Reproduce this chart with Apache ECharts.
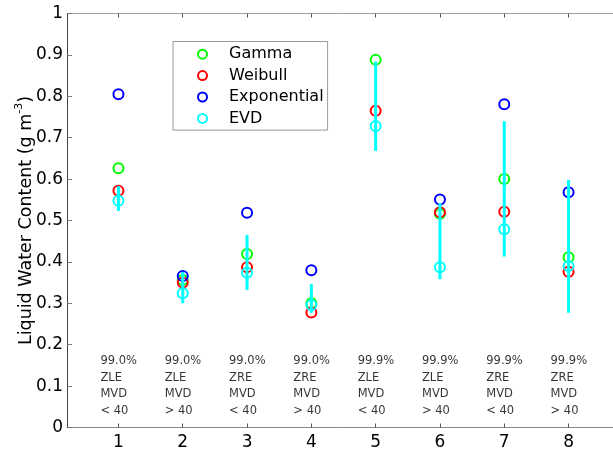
<!DOCTYPE html>
<html>
<head>
<meta charset="utf-8">
<script src="https://cdn.jsdelivr.net/npm/echarts@6/dist/echarts.min.js"></script>
<style>
  html, body { margin: 0; padding: 0; background: #fff; }
  #chart { width: 613px; height: 455px; }
</style>
</head>
<body>
<div id="chart"></div>
<script>
// Case numbers along the x axis
const cases = [1, 2, 3, 4, 5, 6, 7, 8];

// Liquid water content (g m^-3) for each fitted distribution
const gamma       = [0.626, 0.356, 0.419, 0.300, 0.888, 0.516, 0.600, 0.411];
const weibull     = [0.572, 0.350, 0.387, 0.278, 0.765, 0.520, 0.521, 0.376];
const exponential = [0.805, 0.366, 0.519, 0.380, null,  0.551, 0.781, 0.568];
const evd         = [0.548, 0.324, 0.374, 0.296, 0.728, 0.387, 0.479, 0.390];

// EVD uncertainty range
const evdLow  = [0.523, 0.300, 0.332, 0.277, 0.668, 0.358, 0.413, 0.277];
const evdHigh = [0.583, 0.376, 0.465, 0.347, 0.884, 0.542, 0.740, 0.598];

// Case descriptions printed under each column
const confidence = ['99.0%', '99.0%', '99.0%', '99.0%', '99.9%', '99.9%', '99.9%', '99.9%'];
const edge       = ['ZLE', 'ZLE', 'ZRE', 'ZRE', 'ZLE', 'ZLE', 'ZRE', 'ZRE'];
const mvdLine    = ['MVD', 'MVD', 'MVD', 'MVD', 'MVD', 'MVD', 'MVD', 'MVD'];
const mvdRange   = ['< 40', '> 40', '< 40', '> 40', '< 40', '> 40', '< 40', '> 40'];

const yTicks = [0, 0.1, 0.2, 0.3, 0.4, 0.5, 0.6, 0.7, 0.8, 0.9, 1];

const FONT = 'DejaVu Sans';
const noteLevel = 0.1;

function pairs(values) {
  return cases.map((c, i) => [c, values[i]]);
}

function scatter(name, values, color) {
  return {
    name: name,
    type: 'scatter',
    data: pairs(values),
    symbol: 'circle',
    symbolSize: 10,
    itemStyle: { color: 'rgba(255,255,255,0)', borderColor: color, borderWidth: 2, opacity: 1 },
    emphasis: { disabled: true },
    z: 3
  };
}

const chart = echarts.init(document.getElementById('chart'), null, { renderer: 'canvas' });

const option = {
  animation: false,
  backgroundColor: '#fff',
  textStyle: { fontFamily: FONT },
  grid: { left: 67, top: 13.5, width: 553, height: 414, containLabel: false, outerBoundsMode: 'none' },
  legend: {
    data: ['Gamma', 'Weibull', 'Exponential', 'EVD'],
    orient: 'vertical',
    left: 173,
    top: 41.5,
    padding: [2, 4, 1, 24],
    itemWidth: 43,
    itemHeight: 9,
    itemGap: 0,
    borderColor: '#999',
    borderWidth: 1,
    backgroundColor: '#fff',
    selectedMode: false,
    textStyle: { fontFamily: FONT, fontSize: 16, color: '#000', lineHeight: 21.4 }
  },
  xAxis: [
    {
      type: 'value',
      min: 0.2,
      max: 8.8,
      position: 'bottom',
      axisLine: { show: true, onZero: false, lineStyle: { color: '#8a8a8a', width: 1 } },
      axisTick: { show: true, inside: true, length: 4, customValues: cases, lineStyle: { color: '#555' } },
      axisLabel: { show: true, customValues: cases, fontFamily: FONT, fontSize: 17, color: '#000', margin: 7 },
      splitLine: { show: false }
    },
    {
      type: 'value',
      min: 0.2,
      max: 8.8,
      position: 'top',
      axisLine: { show: true, onZero: false, lineStyle: { color: '#a0a0a0', width: 1 } },
      axisTick: { show: true, inside: true, length: 4, customValues: cases, lineStyle: { color: '#555' } },
      axisLabel: { show: false },
      splitLine: { show: false }
    }
  ],
  yAxis: {
    type: 'value',
    min: 0,
    max: 1,
    interval: 0.1,
    axisLine: { show: true, onZero: false, lineStyle: { color: '#444', width: 1 } },
    axisTick: { show: true, inside: true, length: 5, lineStyle: { color: '#777' } },
    axisLabel: {
      fontFamily: FONT, fontSize: 17, color: '#000', margin: 4,
      customValues: yTicks,
      formatter: v => String(Math.round(v * 10) / 10)
    },
    splitLine: { show: false },
    name: '{t|Liquid Water Content (g m}{s|-3}{t|)}',
    nameLocation: 'middle',
    nameGap: 29,
    nameMoveOverlap: false,
    nameRotate: 90,
    nameTextStyle: {
      rich: {
        t: { fontFamily: FONT, fontSize: 17.5, color: '#000', lineHeight: 24 },
        s: { fontFamily: FONT, fontSize: 11, color: '#000', lineHeight: 24, verticalAlign: 'top' }
      }
    }
  },
  series: [
    scatter('Gamma', gamma, '#00ff00'),
    scatter('Weibull', weibull, '#ff0000'),
    scatter('Exponential', exponential, '#0000ff'),
    scatter('EVD', evd, '#00ffff'),
    {
      name: 'EVD range',
      type: 'custom',
      data: cases.map((c, i) => [c, evdLow[i], evdHigh[i]]),
      renderItem: function (params, api) {
        const lo = api.coord([api.value(0), api.value(1)]);
        const hi = api.coord([api.value(0), api.value(2)]);
        return {
          type: 'line',
          shape: { x1: lo[0], y1: lo[1], x2: hi[0], y2: hi[1] },
          style: { stroke: '#00ffff', lineWidth: 3 }
        };
      },
      z: 4,
      silent: true
    },
    {
      name: 'Case notes',
      type: 'scatter',
      data: cases.map((c, i) => ({
        value: [c, noteLevel],
        label: { formatter: [confidence[i], edge[i], mvdLine[i], mvdRange[i]].join('\n') }
      })),
      symbolSize: 0,
      silent: true,
      label: {
        show: true,
        position: 'inside',
        align: 'left',
        verticalAlign: 'middle',
        offset: [-18, 0],
        fontFamily: FONT,
        fontSize: 11.5,
        lineHeight: 16.8,
        color: '#000'
      },
      z: 2
    }
  ]
};

chart.setOption(option);
</script>
</body>
</html>
